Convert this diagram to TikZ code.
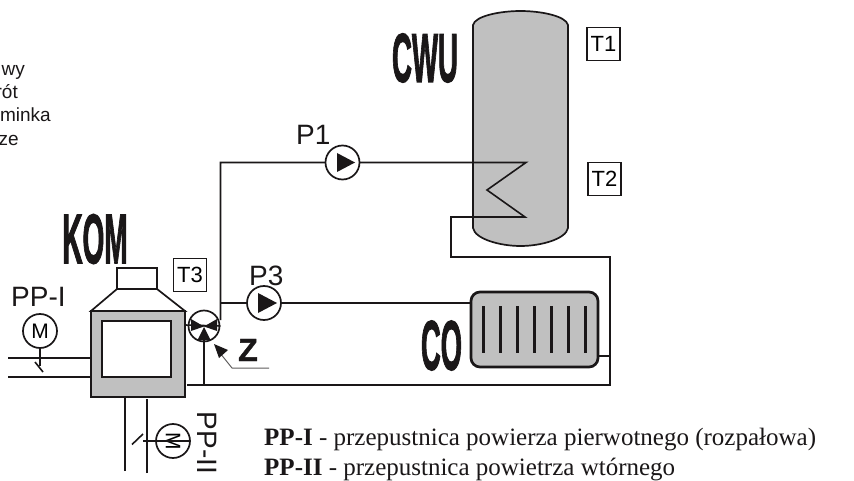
\documentclass[tikz,border=0pt]{standalone}
\usepackage{fontspec}
\setmainfont{Liberation Sans}
\newfontfamily\serifx{Liberation Serif}
\newfontfamily\heavyf[FakeBold=2.2]{Liberation Sans Bold}
\newfontfamily\semif[FakeBold=1.2]{Liberation Sans Bold}
\definecolor{ink}{HTML}{1A1718}
\definecolor{fillg}{HTML}{C0C0C0}
\newcommand{\fsz}[1]{\fontsize{#1}{#1}\selectfont}
\begin{document}
\begin{tikzpicture}[x=1pt,y=-1pt,
  line join=miter,
  pipe/.style={draw=ink,line width=1.6pt},
  thick pipe/.style={draw=ink,line width=2.7pt},
  motor/.style={circle,draw=ink,line width=1.7pt,fill=white,minimum size=34pt,inner sep=0pt,font=\fsz{21}},
  pump/.style={circle,draw=ink,line width=1.7pt,fill=white,minimum size=34pt,inner sep=0pt},
  sensor/.style={rectangle,draw=ink,line width=1.7pt,fill=white,minimum size=33pt,inner sep=0pt,font=\fsz{22}},
  lab/.style={inner sep=0pt,font=\fsz{28},text=ink},
  big/.style={inner sep=0pt,text=ink,font=\heavyf\fsz{70}},
  legend/.style={inner sep=0pt,anchor=base west,text=ink,font=\serifx\fsz{25}},
  frag/.style={inner sep=0pt,anchor=base east,text=ink,font=\fsz{19}},
  solidtip/.style={fill=ink,draw=none}
]
\useasboundingbox (0,0) rectangle (854,481);
\fill[white] (0,0) rectangle (854,481);

% clipped left text
\node[frag] (fa) at (25,76) {wy};
\node[frag] (fb) at (18,99) {rót};
\node[frag] (fc) at (51,122) {minka};
\node[frag] (fd) at (19,146) {ze};

% tank
\path[fill=fillg,draw=ink,line width=1.7pt] (473,25) .. controls (475,16) and (500,11) .. (520.5,11) .. controls (541,11) and (566,16) .. (568,25) -- (568,228) .. controls (566,239) and (541,246) .. (520.5,246) .. controls (500,246) and (475,239) .. (473,228) -- cycle;
\node[sensor] (t1) at (603.5,44) {T1};
\node[sensor] (t2) at (604.5,179) {T2};
\node[big,font=\heavyf\fsz{69}] (cwu) at (425,58) {\scalebox{0.4}[1]{CWU}};
\node[big] (kom) at (95,239) {\scalebox{0.4}[1]{KOM}};
\node[big] (co) at (441.5,345.5) {\scalebox{0.39}[1]{CO}};

% coordinates for pipe routes
\coordinate (vj) at (220.5,162.5);
\coordinate (vb) at (220.5,303);
\coordinate (c1) at (526,162.5);
\coordinate (c2) at (487,190);
\coordinate (c3) at (525,217);
\coordinate (c4) at (451,217);
\coordinate (c5) at (451,257);
\coordinate (c6) at (610,257);
\coordinate (c7) at (610,385);
\coordinate (c8) at (187,385);
\coordinate (c9) at (204,385);
\coordinate (r1) at (610,356);
\coordinate (r2) at (610,323);
\coordinate (pl1) at (8,358);
\coordinate (pl2) at (8,377);
\coordinate (bl1) at (125,471);
\coordinate (bl2) at (146.7,473);

% pipes
\draw[pipe] (220.5,320) -- (vb) -- (vj) -- (c1) -- (c2) -- (c3) -- (c4) -- (c5) -- (c6) -- (c7) -- (c8);
\draw[pipe] (vb) -- (264,303);
\draw[thick pipe] (264,303) -- (470,303);
\draw[thick pipe] (r2) -- (r1);
\draw[pipe] (598,356) -- (r1);

% pumps and valve
\node[pump] (p1) at (342.5,162.5) {};
\node[pump] (p3) at (264,303) {};
\node[pump,minimum size=31pt] (zv) at (204,326) {};
\fill[solidtip] (337,153) -- (337,172) -- (355,162.5) -- cycle;
\fill[solidtip] (258,293) -- (258,313) -- (277,303) -- cycle;
\draw[pipe] (185,325) -- (zv.east);
\fill[solidtip] (191,319) -- (191,331) -- (204,326.5) -- cycle;
\fill[solidtip] (217,319) -- (217,331) -- (204,326.5) -- cycle;
\fill[solidtip] (197.5,340) -- (210.5,340) -- (204,327) -- cycle;
\draw[thick pipe] (204,338) -- (c9);

% radiator
\path[fill=fillg,draw=ink,line width=2.7pt,rounded corners=9pt] (471,292) rectangle (598,367);
\foreach \x in {483,500,517,534,551,568,585} \draw[draw=ink,line width=3pt] (\x,306) -- (\x,353);

% boiler
\draw[draw=ink,line width=1.7pt,fill=white] (117,268) rectangle (157,289);
\draw[draw=ink,line width=1.7pt,fill=white] (91,311) -- (117,289) -- (157,289) -- (185,311) -- cycle;
\path[fill=fillg,draw=ink,line width=2pt] (91,311) rectangle (185,396.5);
\path[fill=white,draw=ink,line width=2pt] (102,321) rectangle (171,377);
\node[sensor] (t3) at (190,275) {T3};

% air pipes and dampers
\draw[thick pipe] (pl1) -- (91,358);
\draw[thick pipe] (pl2) -- (91,377);
\node[motor] (m1) at (40,331) {M};
\coordinate (d1) at (40,366);
\draw[pipe] (m1.south) -- (d1);
\draw[pipe] (35,362) -- (43,372);
\draw[pipe] (bl1) -- (125,397);
\draw[pipe] (bl2) -- (146.7,399);
\node[motor,rotate=-90] (m2) at (173,441) {M};
\coordinate (d2) at (143,441);
\draw[pipe] (m2.north) -- (d2);
\draw[pipe] (132,444.5) -- (143,434);

% labels
\node[lab,anchor=base west] (lpp1) at (11,306) {PP-I};
\node[lab,anchor=base west] (lp1) at (296,145) {P1};
\node[lab,anchor=base west] (lp3) at (249,285) {P3};
\node[lab,rotate=-90] (lpp2) at (207,443) {PP-II};
\node[inner sep=0pt,text=ink,font=\semif\fsz{32}] (lz) at (248,350) {Z};

% Z pointer
\draw[draw=ink!70,line width=1pt] (269,368) -- (232,368) -- (220,353);
\fill[solidtip] (214,344) -- (228,350) -- (219,358) -- cycle;

% legend
\node[legend] (lg1) at (264,445) {\textbf{PP-I} - przepustnica powierza pierwotnego (rozpałowa)};
\node[legend] (lg2) at (264,475) {\textbf{PP-II} - przepustnica powietrza wtórnego};
\end{tikzpicture}
\end{document}
